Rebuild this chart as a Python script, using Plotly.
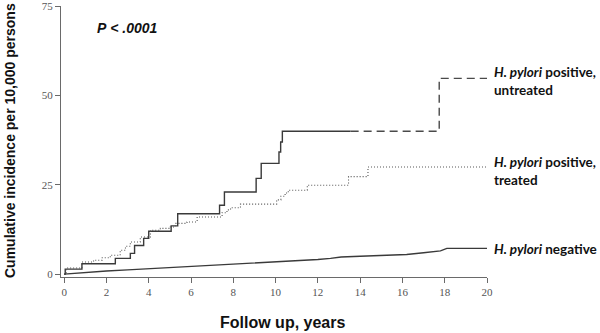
import plotly.graph_objects as go

# Kaplan-Meier style cumulative incidence curves (per 10,000 persons)
untreated_t = [0, 0.05, 0.84, 2.42, 3.13, 3.33, 3.76, 4.0, 5.06, 5.37, 7.35, 7.58,
               9.08, 9.32, 10.16, 10.24, 10.32, 13.55]
untreated_v = [0, 1.4, 2.9, 4.4, 5.8, 8.0, 10.0, 12.0, 13.5, 16.9, 19.3, 23.0,
               26.8, 31.0, 34.2, 37.0, 40.0, 40.0]
untreated_tail_t = [13.55, 17.74, 20.0]
untreated_tail_v = [40.0, 54.8, 54.8]

treated_t = [0, 0.1, 0.84, 1.39, 1.8, 2.18, 2.65, 2.9, 3.13, 3.6, 4.08, 4.55, 5.02,
             5.26, 5.81, 6.29, 7.47, 7.7, 7.87, 8.34, 10.05, 10.25, 10.45, 10.6,
             11.5, 13.45, 14.37, 20.0]
treated_v = [0, 1.7, 3.4, 3.9, 4.6, 5.3, 6.7, 7.8, 9.0, 10.4, 12.3, 12.8, 13.2,
             14.2, 14.6, 16.0, 17.2, 18.0, 18.6, 19.6, 20.8, 21.8, 22.7, 23.5,
             24.9, 27.3, 30.0, 30.0]

negative_t = [0, 1, 2, 3, 4, 5, 6, 7, 8, 9, 10, 11, 12, 12.6, 13.1, 14, 15, 16.2,
              17, 17.8, 18.1, 20]
negative_v = [0, 0.5, 0.9, 1.2, 1.5, 1.8, 2.1, 2.4, 2.7, 3.0, 3.3, 3.7, 4.1, 4.4,
              4.8, 5.0, 5.2, 5.5, 6.0, 6.5, 7.2, 7.2]

x_ticks = [0, 2, 4, 6, 8, 10, 12, 14, 16, 18, 20]
y_ticks = [0, 25, 50, 75]

line_col = "#3a3a3a"

# plot area in pixels (left, right, top, bottom)
PL, PR, PT, PB = 61, 487, 6, 277


def px(x):
    return (x - PL) / (PR - PL)


def py(y):
    return (PB - y) / (PB - PT)


fig = go.Figure()
fig.add_trace(go.Scatter(x=untreated_t, y=untreated_v, mode="lines", line_shape="hv",
                         line=dict(color=line_col, width=1.4)))
fig.add_trace(go.Scatter(x=untreated_tail_t, y=untreated_tail_v, mode="lines", line_shape="hv",
                         line=dict(color="#4a4a4a", width=1.4, dash="8px,5px")))
fig.add_trace(go.Scatter(x=treated_t, y=treated_v, mode="lines", line_shape="hv",
                         line=dict(color="#555555", width=1.1, dash="1px,2px")))
fig.add_trace(go.Scatter(x=negative_t, y=negative_v, mode="lines",
                         line=dict(color=line_col, width=1.4)))

axis_common = dict(showline=True, linecolor="#6a6a6a", linewidth=1.2, ticks="outside",
                   ticklen=5, tickcolor="#6a6a6a", showgrid=False, zeroline=False,
                   automargin=False,
                   tickfont=dict(family="Liberation Serif", size=11, color="#555555"))

fig.update_layout(
    width=600, height=333,
    margin=dict(l=PL, r=600 - PR, t=PT, b=333 - PB),
    paper_bgcolor="white", plot_bgcolor="white",
    showlegend=False,
    xaxis=dict(range=[-0.15, 20.0], tickvals=x_ticks, **axis_common),
    yaxis=dict(range=[-0.8, 75.05], tickvals=y_ticks, ticklabeloverflow="allow",
               **axis_common),
)

bold = dict(family="Arial", color="#111111")
label_font = dict(family="Lato", size=13.5, color="#111111")

fig.add_annotation(text="<b><i>P</i> <i>< .0001</i></b>", xref="paper", yref="paper",
                   x=px(95), y=py(28), xanchor="left", yanchor="middle",
                   showarrow=False, font=dict(size=14, **bold))
fig.add_annotation(text="<b>Follow up, years</b>", xref="paper", yref="paper",
                   x=px(282), y=py(322), xanchor="center", yanchor="middle",
                   showarrow=False, font=dict(size=16, **bold))
fig.add_annotation(text="<b>Cumulative incidence per 10,000 persons</b>", xref="paper",
                   yref="paper", x=px(10), y=py(141), xanchor="center",
                   yanchor="middle", textangle=-90, showarrow=False,
                   font=dict(size=14, **bold))

labels = [
    ("<b><i>H. pylori</i> positive,</b><br><b>untreated</b>", 80.5),
    ("<b><i>H. pylori</i> positive,</b><br><b>treated</b>", 171),
    ("<b><i>H. pylori</i> negative</b>", 249),
]
for txt, ypix in labels:
    fig.add_annotation(text=txt, xref="paper", yref="paper", x=px(492),
                       y=py(ypix), xanchor="left", yanchor="middle", align="left",
                       showarrow=False, font=label_font)

fig.write_html("out.html")
